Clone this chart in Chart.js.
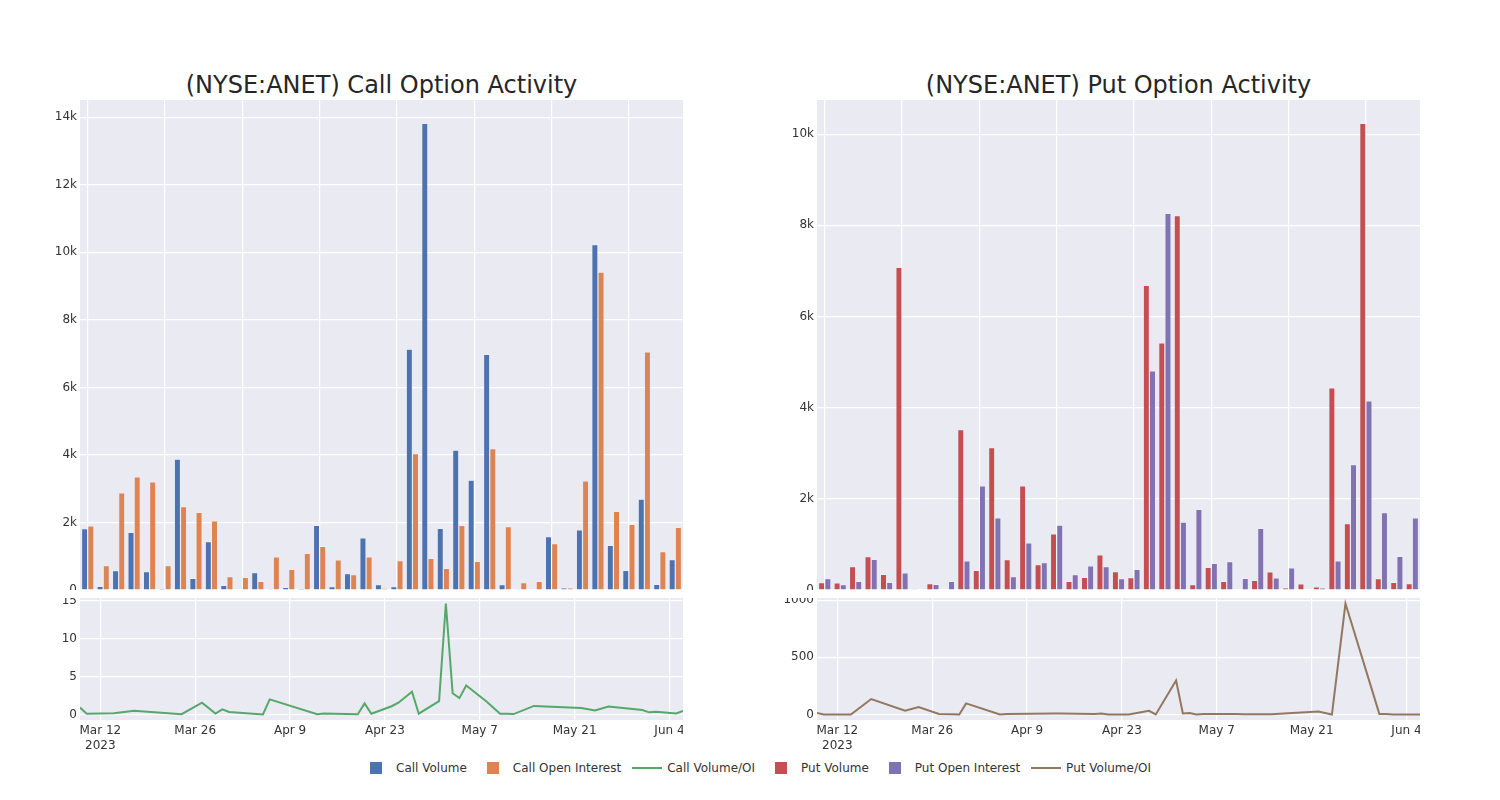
<!DOCTYPE html>
<html>
<head>
<meta charset="utf-8">
<script src="https://cdn.jsdelivr.net/npm/chart.js@4"></script>
<style>
    body { margin: 0; background: #fff; font-family: 'DejaVu Sans', sans-serif; }
    #wrap { position: relative; width: 1500px; height: 800px; }
    .box { position: absolute; }
    .title { position: absolute; top: 71px; font-size: 24px; color: #262626; text-align: center; width: 603px; }
    #legend { position: absolute; top: 761px; left: 361px; display: flex; font-size: 12px; color: #333; }
    #legend .item { display: flex; align-items: center; margin-right: 11px; }
    #legend .hb { width: 30px; height: 14px; display: flex; align-items: center; justify-content: center; margin-right: 5px; }
    #legend .sq { width: 12px; height: 12px; }
    #legend .ln { width: 30px; height: 2px; }
</style>
</head>
<body>
<div id="wrap">
    <div class="title" style="left:80px">(NYSE:ANET) Call Option Activity</div>
    <div class="title" style="left:817px">(NYSE:ANET) Put Option Activity</div>
    <div class="box" style="left:0;top:100px"><canvas id="callBars" width="683" height="490"></canvas></div>
    <div class="box" style="left:0;top:598px"><canvas id="callRatio" width="683" height="160"></canvas></div>
    <div class="box" style="left:740px;top:100px"><canvas id="putBars" width="680" height="490"></canvas></div>
    <div class="box" style="left:740px;top:598px"><canvas id="putRatio" width="680" height="160"></canvas></div>
    <div id="legend"></div>
</div>
<script>
// ==================== DATA ====================
const dates = ['2023-03-09','2023-03-10','2023-03-14','2023-03-17','2023-03-22','2023-03-24','2023-03-27','2023-03-29','2023-03-30','2023-03-31',
    '2023-04-05','2023-04-06','2023-04-13','2023-04-14','2023-04-19','2023-04-20','2023-04-21','2023-04-24','2023-04-25','2023-04-27',
    '2023-04-28','2023-05-01','2023-05-02','2023-05-03','2023-05-04','2023-05-05','2023-05-08','2023-05-10','2023-05-11','2023-05-12',
    '2023-05-15','2023-05-22','2023-05-24','2023-05-26','2023-05-31','2023-06-01','2023-06-02','2023-06-05','2023-06-06'];

const callVolume = [1817,109,573,1709,543,40,3872,346,1432,138,0,514,30,79,40,1916,99,484,1541,158,99,7131,13818,1827,4138,3250,6973,158,20,10,1580,59,1778,10223,1323,583,2687,168,899];
const callOI = [1896,721,2874,3348,3200,721,2469,2301,2044,395,375,257,978,612,1086,1294,889,454,978,49,869,4040,938,642,1916,849,4188,1877,217,257,1373,59,3230,9413,2331,1946,7052,1136,1857];
const callRatio = [0.9,0.1,0.15,0.5,0.17,0.03,1.55,0.12,0.68,0.33,0,1.98,0.03,0.12,0.03,1.45,0.1,1.08,1.55,3.0,0.1,1.75,14.6,2.8,2.15,3.8,1.7,0.08,0.08,0.05,1.12,0.85,0.52,1.05,0.58,0.28,0.37,0.13,0.48];

const putVolume = [161,154,512,732,344,7077,22,139,0,3520,432,3125,666,2283,556,1229,190,278,768,402,271,6681,5423,8211,117,498,190,7,212,395,44,132,66,4435,1456,10238,249,168,139];
const putOI = [249,117,190,673,168,373,0,124,190,637,2283,1581,293,1032,600,1420,337,527,512,249,454,4808,8262,1486,1771,585,622,256,1354,263,483,0,44,637,2752,4149,1698,739,1581];
const putRatio = [12,0,0,135,32,65,5,2,0,97,0,5,8,8,3,8,0,0,10,32,0,297,8,12,0,5,5,3,2,2,2,26,0,970,5,5,0,0,0];

const tickDates = ['2023-03-12','2023-03-26','2023-04-09','2023-04-23','2023-05-07','2023-05-21','2023-06-04'];
const tickLabels = [['Mar 12','2023'],'Mar 26','Apr 9','Apr 23','May 7','May 21','Jun 4'];

const COLORS = { callVol: '#4c72b0', callOI: '#dd8452', callRatio: '#55a868', putVol: '#c44e52', putOI: '#8172b3', putRatio: '#937860' };

// ==================== HELPERS ====================
Chart.defaults.font.family = "'DejaVu Sans', sans-serif";
Chart.defaults.font.size = 12;
Chart.defaults.color = '#333';
Chart.defaults.animation = false;

const dayNum = s => Date.parse(s + 'T00:00:00Z') / 86400000;
const tickDays = tickDates.map(dayNum);

const plotBg = {
    id: 'plotBg',
    beforeDraw(chart) {
        const { ctx, chartArea: a } = chart;
        ctx.save();
        ctx.fillStyle = '#eaeaf2';
        ctx.fillRect(a.left, a.top, a.right - a.left, a.bottom - a.top);
        ctx.restore();
    }
};

// fixed ticks 0, step, 2*step ... up to max
const fixedTicks = step => s => {
    const t = [];
    for (let v = 0; v <= s.max; v += step) t.push({ value: v });
    s.ticks = t;
};

function barChart(id, labels, vol, oi, volColor, oiColor, yMax, yW) {
    const ds = (data, color) => ({
        data, backgroundColor: color, borderColor: 'rgba(255,255,255,0.3)', borderWidth: 0.6,
        categoryPercentage: 0.8, barPercentage: 1
    });
    return new Chart(document.getElementById(id), {
        type: 'bar',
        data: { labels, datasets: [ds(vol, volColor), ds(oi, oiColor)] },
        options: {
            responsive: false, maintainAspectRatio: false,
            layout: { padding: 0 },
            plugins: { legend: { display: false }, tooltip: { enabled: false } },
            scales: {
                x: {
                    ticks: { display: false, autoSkip: false },
                    grid: { offset: false, drawTicks: false, lineWidth: 1.2, color: c => c.index % 5 === 0 ? '#fff' : 'rgba(0,0,0,0)' },
                    border: { display: false },
                    afterFit: s => { s.height = 0; s.paddingLeft = 0; s.paddingRight = 0; }
                },
                y: {
                    min: 0, max: yMax,
                    afterBuildTicks: fixedTicks(2000),
                    ticks: { padding: 3, callback: v => v === 0 ? '0' : (v / 1000) + 'k' },
                    grid: { color: '#fff', lineWidth: 1.2, drawTicks: false },
                    border: { display: false },
                    afterFit: s => { s.width = yW; s.paddingTop = 0; s.paddingBottom = 0; }
                }
            }
        },
        plugins: [plotBg]
    });
}

function ratioChart(id, values, color, yMin, yMax, step, yW) {
    return new Chart(document.getElementById(id), {
        type: 'line',
        data: {
            datasets: [{
                data: dates.map((d, i) => ({ x: dayNum(d), y: values[i] })),
                borderColor: color, borderWidth: 2, pointRadius: 0, tension: 0, fill: false
            }]
        },
        options: {
            responsive: false, maintainAspectRatio: false,
            layout: { padding: 0 },
            plugins: { legend: { display: false }, tooltip: { enabled: false } },
            scales: {
                x: {
                    type: 'linear',
                    min: dayNum(dates[0]), max: dayNum(dates[dates.length - 1]),
                    afterBuildTicks: s => { s.ticks = tickDays.map(v => ({ value: v })); },
                    ticks: { autoSkip: false, maxRotation: 0, padding: 4, callback: v => tickLabels[tickDays.indexOf(v)] },
                    grid: { color: '#fff', lineWidth: 1.2, drawTicks: false },
                    border: { display: false },
                    afterFit: s => { s.height = 38; s.paddingLeft = 0; s.paddingRight = 0; }
                },
                y: {
                    min: yMin, max: yMax,
                    afterBuildTicks: fixedTicks(step),
                    ticks: { padding: 3, callback: v => String(v) },
                    grid: { color: '#fff', lineWidth: 1.2, drawTicks: false },
                    border: { display: false },
                    afterFit: s => { s.width = yW; s.paddingTop = 0; s.paddingBottom = 0; }
                }
            }
        },
        plugins: [plotBg]
    });
}

// ==================== CHARTS ====================
barChart('callBars', dates, callVolume, callOI, COLORS.callVol, COLORS.callOI, 14510, 80);
ratioChart('callRatio', callRatio, COLORS.callRatio, -0.73, 15.33, 5, 80);
barChart('putBars', dates, putVolume, putOI, COLORS.putVol, COLORS.putOI, 10750, 77);
ratioChart('putRatio', putRatio, COLORS.putRatio, -48.5, 1018.5, 500, 77);

// ==================== LEGEND ====================
const legendItems = [
    { label: 'Call Volume', color: COLORS.callVol, kind: 'sq' },
    { label: 'Call Open Interest', color: COLORS.callOI, kind: 'sq' },
    { label: 'Call Volume/OI', color: COLORS.callRatio, kind: 'ln' },
    { label: 'Put Volume', color: COLORS.putVol, kind: 'sq' },
    { label: 'Put Open Interest', color: COLORS.putOI, kind: 'sq' },
    { label: 'Put Volume/OI', color: COLORS.putRatio, kind: 'ln' }
];
document.getElementById('legend').innerHTML = legendItems.map(it =>
    `<div class="item"><span class="hb"><span class="${it.kind}" style="background:${it.color}"></span></span><span>${it.label}</span></div>`
).join('');
</script>
</body>
</html>
